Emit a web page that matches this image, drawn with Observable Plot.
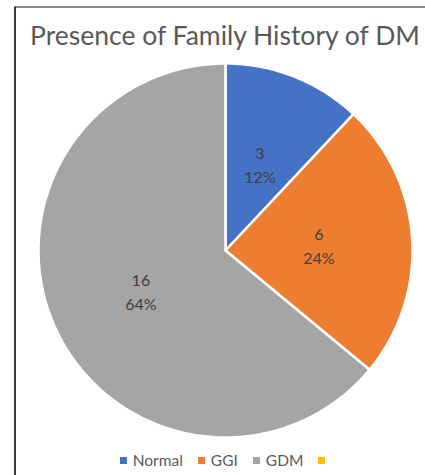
<!DOCTYPE html>
<html><head><meta charset="utf-8">
<script src="https://cdn.jsdelivr.net/npm/d3@7"></script>
<script src="https://cdn.jsdelivr.net/npm/@observablehq/plot@0.6"></script>
<style>
body{margin:0;background:#fff;font-family:Lato,"Open Sans",sans-serif;}
#frame{position:relative;width:425px;height:475px;overflow:hidden;}
#frame .bl{position:absolute;left:14px;top:7px;width:2px;height:468px;background:#3a3a3a;}
#frame .bt{position:absolute;left:14px;top:6px;width:411px;height:2px;background:#888;}
#title{position:absolute;left:20px;width:410px;top:19px;text-align:center;font-size:26.5px;color:#595959;white-space:nowrap;}
#chart{position:absolute;left:0;top:50px;}
#legend{position:absolute;left:0;width:425px;top:451px;display:flex;justify-content:center;gap:15px;font-size:15.5px;color:#595959;padding-left:26px;box-sizing:border-box;}
#legend span.sw{display:inline-block;width:7px;height:7px;margin-right:6px;vertical-align:2px;}
</style></head>
<body>
<div id="frame"><div class="bt"></div><div class="bl"></div>
<div id="title">Presence of Family History of DM</div>
<div id="chart"></div>
<div id="legend"></div>
</div>
<script>
const categories = ["Normal", "GGI", "GDM", ""];
const values = [3, 6, 16, 0];
const percents = ["12%", "24%", "64%", ""];
const colors = ["#4472C4", "#ED7D31", "#A5A5A5", "#FFC000"];

const R = 187, W = 425, H = 400, cx = 225, cy = 200;
const arcs = d3.pie().sort(null).startAngle(0).endAngle(2*Math.PI)(values);

const poly = [];
arcs.forEach((a, i) => {
  if (a.value <= 0) return;
  poly.push({cat: categories[i], x: 0, y: 0});
  const n = Math.max(2, Math.ceil((a.endAngle - a.startAngle) * 60));
  for (let k = 0; k <= n; k++) {
    const t = a.startAngle + (a.endAngle - a.startAngle) * k / n;
    poly.push({cat: categories[i], x: Math.sin(t), y: Math.cos(t)});
  }
  poly.push({cat: categories[i], x: 0, y: 0});
});
const labels = arcs.filter(a => a.value > 0).map(a => {
  const i = a.index, m = (a.startAngle + a.endAngle) / 2;
  return {x: 0.5*Math.sin(m), y: 0.5*Math.cos(m), t: values[i] + "\n" + percents[i]};
});

const plot = Plot.plot({
  width: W, height: H, margin: 0,
  x: {domain: [-cx/R, (W-cx)/R], axis: null},
  y: {domain: [-(H-cy)/R, cy/R], axis: null},
  color: {domain: categories, range: colors},
  marks: [
    Plot.line(poly, {x: "x", y: "y", z: "cat", fill: "cat", stroke: "white", strokeWidth: 2.5, curve: "linear"}),
    Plot.text(labels, {x: "x", y: "y", text: "t", fontSize: 16, fill: "#404040", lineHeight: 1.5, fontFamily: "Lato, 'Open Sans', sans-serif"})
  ]
});
document.getElementById("chart").appendChild(plot);

const lg = document.getElementById("legend");
categories.forEach((c, i) => {
  const d = document.createElement("div");
  d.innerHTML = `<span class="sw" style="background:${colors[i]}"></span>${c}`;
  lg.appendChild(d);
});
</script>
</body></html>
